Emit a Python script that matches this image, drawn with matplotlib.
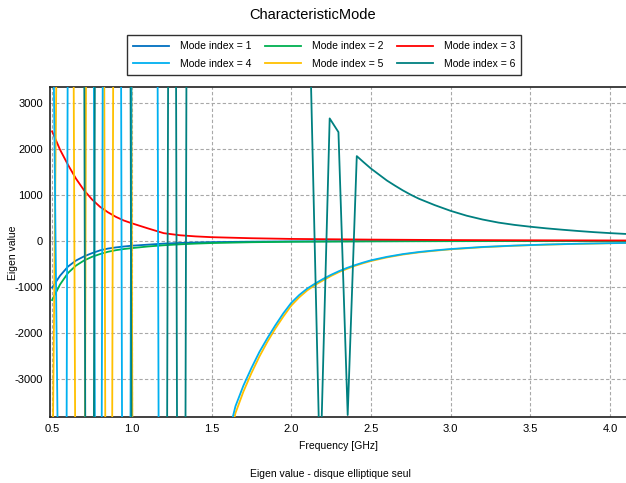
import matplotlib
matplotlib.use("Agg")
import matplotlib.pyplot as plt

plt.rcParams['font.family'] = ['Liberation Sans', 'DejaVu Sans']
plt.rcParams['axes.unicode_minus'] = False

# mode 1 / 2 / 3 : smooth branches
f_m1 = [0.50, 0.55, 0.60, 0.65, 0.70, 0.75, 0.80, 0.85, 0.90, 0.95, 1.00, 1.10, 1.20,
        1.30, 1.40, 1.50, 1.75, 2.00, 2.50, 3.00, 3.50, 4.10]
v_m1 = [-1020, -760, -560, -430, -340, -270, -210, -170, -145, -125, -108, -85, -62,
        -48, -38, -30, -20, -14, -9, -6, -4, -3]
v_m2 = [-1290, -950, -700, -540, -430, -350, -290, -240, -205, -180, -160, -125, -98,
        -78, -62, -50, -32, -22, -13, -9, -6, -4]
v_m3 = [2380, 1980, 1650, 1350, 1100, 900, 740, 620, 520, 440, 380, 270, 165,
        120, 95, 78, 55, 40, 25, 15, 10, 6]

# mode 4
f_m4 = [0.50, 0.54, 0.585, 0.605, 0.755, 0.775, 0.805, 0.825, 0.925, 0.945, 0.985, 1.005,
        1.155, 1.175, 1.60, 1.65, 1.70, 1.75, 1.80, 1.85, 1.90, 1.95, 2.00, 2.05, 2.10,
        2.15, 2.20, 2.25, 2.30, 2.35, 2.40, 2.45, 2.50, 2.60, 2.70, 2.80, 2.90, 3.00,
        3.20, 3.40, 3.60, 3.80, 4.00, 4.10]
v_m4 = [7000, -5800, -11000, 12000, 13000, -12500, -11500, 12500, 13500, -12000, -12500, 13000,
        12000, -12500, -4300, -3600, -3150, -2770, -2420, -2120, -1840, -1580, -1350, -1180, -1040,
        -930, -830, -740, -660, -590, -530, -475, -425, -350, -290, -245, -210, -180,
        -135, -105, -82, -65, -52, -47]

# mode 5
f_m5 = [0.50, 0.535, 0.625, 0.655, 0.70, 0.72, 0.82, 0.84, 0.87, 0.89, 0.99, 1.01,
        1.60, 1.65, 1.70, 1.75, 1.80, 1.85, 1.90, 1.95, 2.00, 2.05, 2.10,
        2.15, 2.20, 2.25, 2.30, 2.35, 2.40, 2.45, 2.50, 2.60, 2.70, 2.80, 2.90, 3.00,
        3.20, 3.40, 3.60, 3.80, 4.00, 4.10]
v_m5 = [-6000, 6500, 12000, -12500, -12000, 12500, 12000, -11500, -12500, 12000, 12500, -12000,
        -4500, -3750, -3280, -2880, -2520, -2200, -1910, -1650, -1410, -1230, -1080,
        -960, -860, -765, -680, -610, -545, -490, -440, -362, -300, -253, -217, -186,
        -140, -108, -85, -67, -54, -48]

# mode 6
f_m6 = [0.50, 0.695, 0.715, 0.755, 0.775, 0.985, 1.005, 1.215, 1.235, 1.27, 1.29, 1.33, 1.35,
        2.12, 2.181, 2.241, 2.296, 2.354, 2.411, 2.45, 2.50, 2.55, 2.60, 2.65, 2.70, 2.75, 2.80,
        2.90, 3.00, 3.10, 3.20, 3.30, 3.40, 3.50, 3.60, 3.70, 3.80, 3.90, 4.00, 4.10]
v_m6 = [15000, 12000, -12500, -13000, 12000, 12500, -13000, -12000, 12500, 13000, -12000, -12500, 13000,
        3990, -5160, 2661, 2363, -3790, 1841, 1720, 1570, 1440, 1310, 1200, 1095, 1000, 915,
        775, 650, 545, 462, 395, 345, 305, 270, 240, 212, 187, 166, 148]

labels = ['Mode index = 1', 'Mode index = 2', 'Mode index = 3',
          'Mode index = 4', 'Mode index = 5', 'Mode index = 6']
colors = ['#0070C0', '#00B050', '#FF0000', '#00B0F0', '#FFC000', '#008080']

fig = plt.figure(figsize=(6.26, 4.83), dpi=100)
ax = fig.add_axes([0.0799, 0.136, 0.922, 0.683])

series = [(f_m1, v_m1), (f_m1, v_m2), (f_m1, v_m3), (f_m4, v_m4), (f_m5, v_m5), (f_m6, v_m6)]
zs = [3, 3, 3, 3.2, 3.1, 3.3]
handles = []
for (f, v), lab, c, z in zip(series, labels, colors, zs):
    h, = ax.plot(f, v, color=c, lw=1.3, label=lab, zorder=z)
    handles.append(h)

ax.set_xlim(0.487, 4.107)
ax.set_ylim(-3840, 3335)
ax.set_xticks([0.5, 1.0, 1.5, 2.0, 2.5, 3.0, 3.5, 4.0])
ax.set_xticklabels(['0.5', '1.0', '1.5', '2.0', '2.5', '3.0', '3.5', '4.0'])
ax.set_yticks([-3000, -2000, -1000, 0, 1000, 2000, 3000])
ax.grid(True, color='#a8a8a8', ls=(0, (3, 2)), lw=0.8)
ax.tick_params(length=0, labelsize=8, pad=5)
for s in ax.spines.values():
    s.set_color('#202020')
    s.set_linewidth(1.2)

ax.set_xlabel('Frequency [GHz]', fontsize=7.5, labelpad=5)
ax.set_ylabel('Eigen value', fontsize=7.5)
ax.yaxis.set_label_coords(-0.056, 0.5)

fig.suptitle('CharacteristicMode', y=0.969, va='center', fontsize=10.5)
# row-wise order in a 3 column legend
order = [0, 3, 1, 4, 2, 5]
leg = fig.legend([handles[i] for i in order], [labels[i] for i in order],
                 loc='center', bbox_to_anchor=(0.5176, 0.886), ncol=3, fontsize=7.5,
                 fancybox=False, edgecolor='#303030', framealpha=1,
                 handlelength=3.5, handletextpad=1.0, columnspacing=1.3, labelspacing=0.7,
                 borderpad=0.6)
leg.get_frame().set_linewidth(1.0)

fig.text(0.528, 1 - 474 / 483, 'Eigen value - disque elliptique seul', ha='center', va='center',
         fontsize=7.5)

fig.savefig('out.png', dpi=100)
